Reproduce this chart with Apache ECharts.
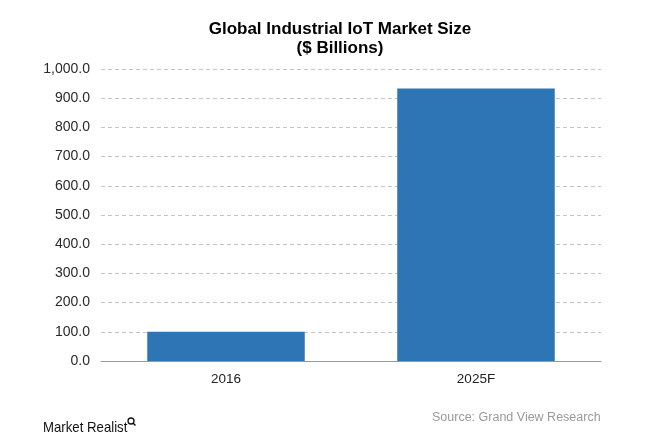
<!DOCTYPE html>
<html><head><meta charset="utf-8">
<script src="https://cdn.jsdelivr.net/npm/echarts@6/dist/echarts.min.js"></script>
<style>html,body{margin:0;padding:0;background:#fff}#c{width:662px;height:441px}</style>
</head><body><div id="c"></div>
<script>
const categories = ['2016', '2025F'];
const marketSize = [100.0, 933.6];
const yTicks = [0, 100, 200, 300, 400, 500, 600, 700, 800, 900, 1000];

const chart = echarts.init(document.getElementById('c'));
chart.setOption({
  animation: false,
  backgroundColor: '#ffffff',
  title: {
    text: 'Global Industrial IoT Market Size\n($ Billions)',
    left: 335, top: 15, textAlign: 'center',
    textStyle: { fontFamily: 'Liberation Sans, Arial', fontWeight: 'bold', fontSize: 17, color: '#000', lineHeight: 19 }
  },
  graphic: [
    { type: 'text', left: 432, top: 411, style: { text: 'Source: Grand View Research', font: '12.5px "Liberation Sans", Arial', fill: '#9a9a9a' } },
    { type: 'text', x: 43, y: 420, scaleX: 0.88, style: { text: 'Market Realist', font: '15px "Liberation Sans", Arial', fill: '#111' } },
    { type: 'circle', shape: { cx: 131, cy: 421, r: 3 }, style: { fill: 'none', stroke: '#111', lineWidth: 1.3 } },
    { type: 'line', shape: { x1: 133, y1: 423, x2: 135.5, y2: 425.5 }, style: { stroke: '#111', lineWidth: 1.5 } }
  ],
  grid: { left: 101, right: 61, top: 69, bottom: 80 },
  xAxis: {
    type: 'category', data: categories,
    axisLine: { lineStyle: { color: '#999', width: 1 } },
    axisTick: { show: false },
    axisLabel: { color: '#222', fontSize: 13.5, fontFamily: 'Liberation Sans, Arial', margin: 11 }
  },
  yAxis: {
    type: 'value', min: 0, max: 1000, interval: 100,
    axisLine: { show: false }, axisTick: { show: false },
    splitLine: { lineStyle: { color: '#c4c4c4', type: [4, 3], width: 1 } },
    axisLabel: {
      color: '#2a2a2a', fontSize: 14, fontFamily: 'Liberation Sans, Arial', margin: 11,
      formatter: v => yTicks.includes(v) ? v.toLocaleString('en-US', { minimumFractionDigits: 1, maximumFractionDigits: 1 }) : ''
    }
  },
  series: [{
    type: 'bar', data: marketSize, barCategoryGap: '37%',
    itemStyle: { color: '#2E75B6' }
  }]
});
</script></body></html>
